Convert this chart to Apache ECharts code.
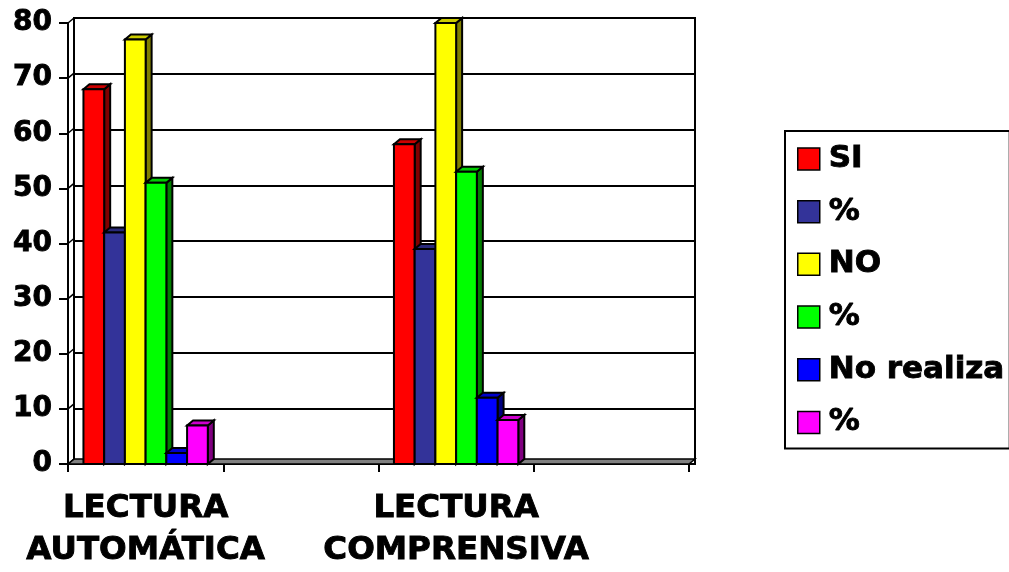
<!DOCTYPE html>
<html>
<head>
<meta charset="utf-8">
<script src="https://cdn.jsdelivr.net/npm/echarts@6/dist/echarts.min.js"></script>
<style>
html,body{margin:0;padding:0;background:#fff;}
#chart{width:1009px;height:572px;}
</style>
</head>
<body>
<div id="chart"></div>
<script>
// ---- data ----
const categories = ['LECTURA\nAUTOMÁTICA', '', 'LECTURA\nCOMPRENSIVA', ''];
const groupIndex = [0, 2];
const seriesNames = ['SI', '%', 'NO', '% ', 'No realiza', '%  '];
const si = [68, 58];
const pctSi = [42, 39];
const no = [77, 80];
const pctNo = [51, 53];
const noRealiza = [2, 12];
const pctNoRealiza = [7, 8];
const yTicks = [0, 10, 20, 30, 40, 50, 60, 70, 80];

const values = [si, pctSi, no, pctNo, noRealiza, pctNoRealiza];
const frontColors = ['#FF0000', '#333399', '#FFFF00', '#00FF00', '#0000FF', '#FF00FF'];
const sideColors = ['#800000', '#1A1A4D', '#808000', '#008000', '#000080', '#800080'];
const topColors = ['#CC0000', '#29297A', '#CCCC00', '#00CC00', '#0000CC', '#CC00CC'];

const FONT = 'DejaVu Sans';
const DX = 6, DY = 5;

function bar3d(i) {
  return function (params, api) {
    const cat = api.value(0), v = api.value(1);
    const top = api.coord([cat, v]);
    const base = api.coord([cat, 0]);
    const band = api.size([1, 0])[0];
    const w = band * 0.1335;
    const x0 = top[0] - 3 * w + i * w;
    const ty = top[1], by = base[1];
    return {
      type: 'group',
      children: [
        { type: 'polygon', shape: { points: [[x0 + w, ty], [x0 + w + DX, ty - DY], [x0 + w + DX, by - DY], [x0 + w, by]] },
          style: { fill: sideColors[i], stroke: '#000', lineWidth: 2 } },
        { type: 'polygon', shape: { points: [[x0, ty], [x0 + DX, ty - DY], [x0 + w + DX, ty - DY], [x0 + w, ty]] },
          style: { fill: topColors[i], stroke: '#000', lineWidth: 2 } },
        { type: 'rect', shape: { x: x0, y: ty, width: w, height: by - ty },
          style: { fill: frontColors[i], stroke: '#000', lineWidth: 2 } }
      ]
    };
  };
}

function decor(params, api) {
  const cs = params.coordSys;
  const children = [];
  const yb = cs.y + cs.height;
  children.push({ type: 'polygon', shape: { points: [[cs.x, yb], [cs.x + DX, yb - DY], [cs.x + cs.width + DX, yb - DY], [cs.x + cs.width, yb]] },
    style: { fill: '#808080', stroke: '#000', lineWidth: 1.5 } });
  yTicks.forEach(function (t) {
    const y = api.coord([0, t])[1];
    children.push({ type: 'line', shape: { x1: cs.x, y1: y, x2: cs.x + DX, y2: y - DY }, style: { stroke: '#000', lineWidth: 1.5 } });
  });
  return { type: 'group', children: children };
}

const series = [{
  type: 'custom', name: 'decor', xAxisIndex: 0, yAxisIndex: 0,
  data: [[0, 0]], renderItem: decor, silent: true, clip: false
}];
values.forEach(function (arr, i) {
  series.push({
    type: 'custom', name: seriesNames[i], xAxisIndex: 0, yAxisIndex: 0,
    itemStyle: { color: frontColors[i] },
    data: arr.map(function (v, k) { return [groupIndex[k], v]; }),
    renderItem: bar3d(i), clip: false
  });
});

const textBold = { color: '#000', fontFamily: FONT, fontWeight: 'bold', textBorderColor: '#000', textBorderWidth: 0.9 };

const chart = echarts.init(document.getElementById('chart'), null, { renderer: 'canvas' });
chart.setOption({
  animation: false,
  backgroundColor: '#fff',
  grid: [
    { left: 68, top: 23, width: 621, height: 446 },
    { left: 74, top: 18, width: 621, height: 446, show: true, borderColor: '#000', borderWidth: 2, backgroundColor: 'transparent' }
  ],
  xAxis: [
    { type: 'category', gridIndex: 0, data: categories, boundaryGap: true,
      axisLine: { lineStyle: { color: '#000', width: 2 } },
      axisTick: { show: true, length: 8, lineStyle: { color: '#000', width: 2 } },
      axisLabel: Object.assign({ interval: 0, fontSize: 32.5, lineHeight: 42, margin: 24 }, textBold),
      splitLine: { show: false } },
    { type: 'category', gridIndex: 1, data: categories, show: false }
  ],
  yAxis: [
    { type: 'value', gridIndex: 0, min: 0, max: 80, interval: 10,
      axisLine: { show: true, lineStyle: { color: '#000', width: 2 } },
      axisTick: { show: true, length: 9, lineStyle: { color: '#000', width: 2 } },
      axisLabel: Object.assign({ fontSize: 28, margin: 16 }, textBold),
      splitLine: { show: false } },
    { type: 'value', gridIndex: 1, min: 0, max: 80, interval: 10,
      axisLine: { show: true, lineStyle: { color: '#000', width: 2 } },
      axisTick: { show: false }, axisLabel: { show: false },
      splitLine: { show: true, lineStyle: { color: '#000', width: 2 } } }
  ],
  legend: {
    data: seriesNames,
    orient: 'vertical', left: 785, top: 131,
    padding: [12, 5, 10, 12],
    borderColor: '#000', borderWidth: 2,
    itemWidth: 22, itemHeight: 22, itemGap: 20.8,
    icon: 'rect', selectedMode: false,
    itemStyle: { borderColor: '#000', borderWidth: 1.5 },
    textStyle: Object.assign({ fontSize: 31, lineHeight: 30, padding: [0, 0, 0, 4] }, textBold)
  },
  series: series
});
</script>
</body>
</html>
